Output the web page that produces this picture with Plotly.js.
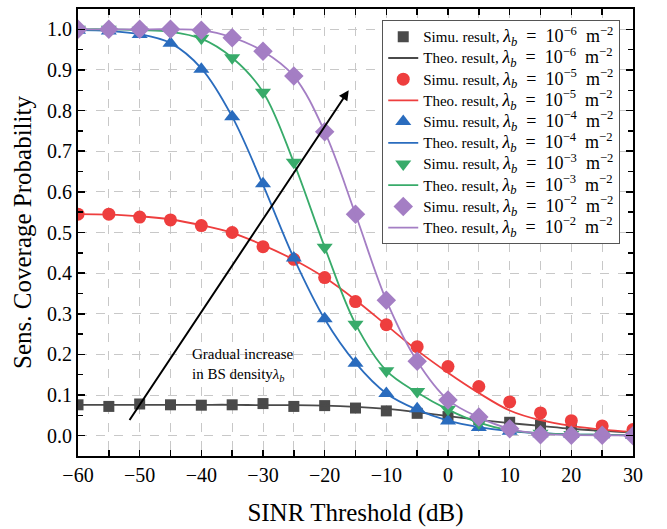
<!DOCTYPE html>
<html>
<head>
<meta charset="utf-8">
<script src="https://cdn.plot.ly/plotly-3.0.1.min.js"></script>
<style>html,body{margin:0;padding:0;background:#fff;}#chart{width:667px;height:529px;}</style>
</head>
<body>
<div id="chart"></div>
<script>
// SINR threshold (dB)
const sinr = [-60,-55,-50,-45,-40,-35,-30,-25,-20,-15,-10,-5,0,5,10,15,20,25,30];

// Simulation results
const sim_1e6 = [0.076,0.072,0.078,0.076,0.075,0.076,0.079,0.072,0.074,0.068,0.061,0.055,0.047,0.040,0.033,0.026,0.017,0.010,0.006];
const sim_1e5 = [0.545,0.545,0.538,0.531,0.517,0.500,0.465,0.434,0.389,0.330,0.273,0.219,0.170,0.121,0.083,0.056,0.037,0.024,0.015];
const sim_1e4 = [0.998,0.996,0.987,0.966,0.902,0.785,0.620,0.437,0.288,0.178,0.104,0.066,0.036,0.020,0.011,0.005,0.003,0.002,0.001];
const sim_1e3 = [1.000,1.000,0.998,0.994,0.978,0.930,0.845,0.673,0.464,0.274,0.160,0.109,0.065,0.031,0.012,0.006,0.003,0.002,0.001];
const sim_1e2 = [1.000,1.000,1.000,1.000,0.998,0.979,0.946,0.885,0.748,0.545,0.333,0.183,0.088,0.046,0.017,0.002,0.001,0.001,0.000];

// Theoretical results
const theo_1e6 = [0.076,0.076,0.076,0.076,0.076,0.076,0.075,0.075,0.074,0.071,0.066,0.058,0.048,0.039,0.031,0.024,0.017,0.012,0.008];
const theo_1e5 = [0.545,0.544,0.540,0.532,0.518,0.499,0.469,0.433,0.389,0.334,0.272,0.210,0.155,0.105,0.062,0.038,0.024,0.015,0.009];
const theo_1e4 = [0.998,0.996,0.988,0.966,0.904,0.785,0.617,0.437,0.287,0.179,0.104,0.064,0.037,0.021,0.011,0.006,0.003,0.002,0.001];
const theo_1e3 = [1.000,1.000,0.998,0.994,0.977,0.930,0.846,0.672,0.464,0.275,0.160,0.106,0.064,0.032,0.013,0.006,0.003,0.002,0.001];
const theo_1e2 = [1.000,1.000,1.000,1.000,0.998,0.980,0.946,0.885,0.748,0.545,0.333,0.183,0.088,0.045,0.017,0.005,0.002,0.001,0.001];

const exps = ['−6','−5','−4','−3','−2'];
const simSets = [sim_1e6, sim_1e5, sim_1e4, sim_1e3, sim_1e2];
const theoSets = [theo_1e6, theo_1e5, theo_1e4, theo_1e3, theo_1e2];
const colors = ['#4a4a4a','#EE3E3E','#2A6CBE','#38AB6A','#A47EC4'];
const symbols = ['square','circle','triangle-up','triangle-down','diamond'];
const sizes = [11,13,14,14,15];

const font = 'Liberation Serif, Times New Roman, serif';
const traces = [];
for (let i = 0; i < 5; i++) {
  const lam = '<span style="font-size:18px"><i>λ</i><sub><i>b</i></sub>&nbsp;&nbsp;=&nbsp;&nbsp;10<sup>' + exps[i] + '</sup>&nbsp;&nbsp;m<sup>−2</sup></span>';
  traces.push({
    x: sinr, y: simSets[i], type: 'scatter', mode: 'markers',
    name: '<span style="font-size:15px">Simu. result, </span>' + lam,
    marker: {symbol: symbols[i], size: sizes[i], color: colors[i]}
  });
  traces.push({
    x: sinr, y: theoSets[i], type: 'scatter', mode: 'lines',
    name: '<span style="font-size:15px">Theo. result, </span>' + lam,
    line: {color: colors[i], width: 1.8, shape: 'spline', smoothing: 1}
  });
}

const gridStyle = {gridcolor: '#c8c8c8', griddash: 'dash', gridwidth: 1};
const layout = {
  width: 667, height: 529,
  margin: {l: 78, r: 34, t: 9, b: 73},
  paper_bgcolor: '#fff', plot_bgcolor: '#fff',
  font: {family: font, color: '#000'},
  showlegend: true,
  legend: {
    x: 0.977, xanchor: 'right', y: 0.975, yanchor: 'top',
    bgcolor: '#fff', bordercolor: '#555', borderwidth: 1,
    font: {family: font, size: 14, color: '#000'},
    itemwidth: 30, tracegroupgap: 0
  },
  xaxis: {
    range: [-60, 30], dtick: 10, tick0: -60,
    ticks: 'inside', ticklen: 6, tickwidth: 1.5, tickcolor: '#000',
    showline: true, linewidth: 2, linecolor: '#000', mirror: 'ticks',
    showgrid: true, ...gridStyle, zeroline: false,
    minor: {dtick: 5, ticks: 'inside', ticklen: 6, tickwidth: 1.5, tickcolor: '#000', showgrid: true, ...gridStyle},
    tickfont: {family: font, size: 20, color: '#000'},
    title: {text: 'SINR Threshold (dB)', font: {family: font, size: 25, color: '#000'}, standoff: 18}
  },
  yaxis: {
    range: [-0.05, 1.05], dtick: 0.1, tick0: 0, tickformat: '.1f',
    ticks: 'inside', ticklen: 7, tickwidth: 1.5, tickcolor: '#000',
    showline: true, linewidth: 2, linecolor: '#000', mirror: 'ticks',
    showgrid: true, ...gridStyle, zeroline: false,
    minor: {dtick: 0.05, ticks: 'inside', ticklen: 5, tickwidth: 1.5, tickcolor: '#000', showgrid: false},
    tickfont: {family: font, size: 20, color: '#000'},
    title: {text: 'Sens. Coverage Probability', font: {family: font, size: 25, color: '#000'}, standoff: 8}
  },
  annotations: [
    {
      x: -16.1, y: 0.85, ax: -51.8, ay: 0.035, xref: 'x', yref: 'y', axref: 'x', ayref: 'y',
      text: '', showarrow: true, arrowhead: 2, arrowsize: 1, arrowwidth: 2, arrowcolor: '#000'
    },
    {
      x: -41.8, y: 0.173, xref: 'x', yref: 'y', xanchor: 'left', yanchor: 'middle', align: 'left',
      showarrow: false,
      text: 'Gradual increase<br>in BS density<i>λ</i><sub><i>b</i></sub>',
      font: {family: font, size: 15, color: '#000'}
    }
  ]
};

Plotly.newPlot('chart', traces, layout, {displayModeBar: false, staticPlot: true});
</script>
</body>
</html>
